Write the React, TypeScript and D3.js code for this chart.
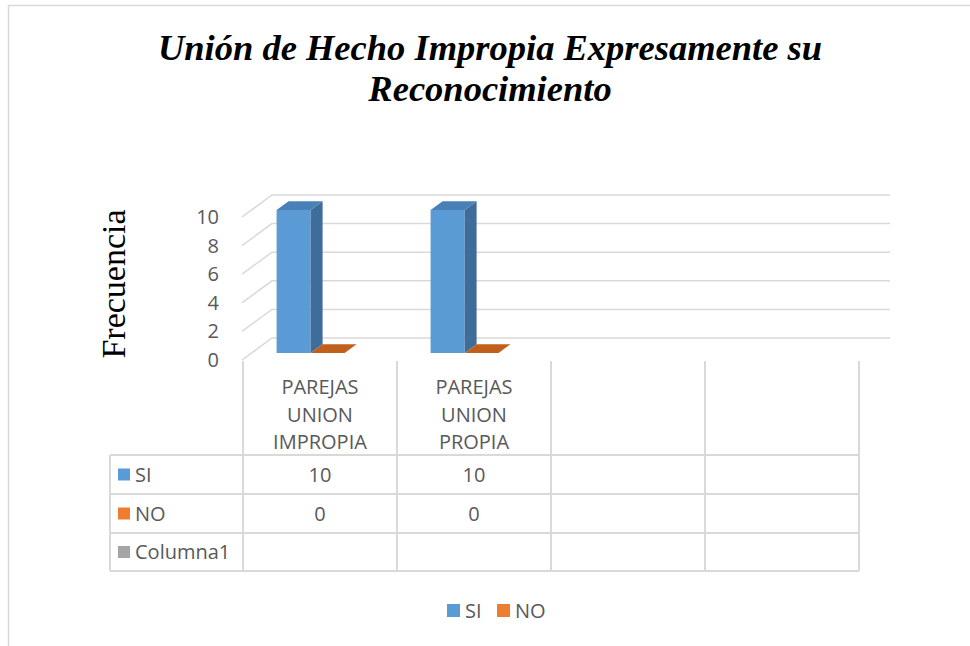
import React from 'react';
import * as d3 from 'd3';

// chart data
const categories = ['PAREJAS UNION IMPROPIA', 'PAREJAS UNION PROPIA', '', ''];
const seriesNames = ['SI', 'NO', 'Columna1'];
const siValues = [10, 10, null, null];
const noValues = [0, 0, null, null];
const columna1Values = [null, null, null, null];
const yTicks = [0, 2, 4, 6, 8, 10];

const colors = {
  SI: { front: '#5B9BD5', side: '#3F6D99', top: '#4A80B8' },
  NO: { front: '#ED7D31', side: '#B05A1E', top: '#C0601C' },
  Columna1: { front: '#A5A5A5', side: '#7C7C7C', top: '#8F8F8F' },
};

const W = 970;
const H = 646;
const GRID = '#D9D9D9';
const TEXT = '#595959';
const SANS = '"Open Sans", "Noto Sans", sans-serif';
const SERIF = '"Liberation Serif", "Times New Roman", serif';

// 3d floor geometry
const floorY = 360;
const depthX = 30;
const depthY = -22;
const barDepth = [0.32, 0.72];

const App = () => {
  const xScale = d3.scaleBand<string>()
    .domain(categories.map((_, i) => String(i)))
    .range([243, 859]);

  const yScale = d3.scaleLinear().domain([0, 10]).range([0, 143]);

  // bars sit inside each band, offset from the left of the band
  const inner = d3.scaleBand<string>().domain(['SI', 'NO']).range([24, 92]);

  const proj = (x: number, v: number, z: number) =>
    [x + z * depthX, floorY - yScale(v) + z * depthY] as [number, number];

  const pts = (p: [number, number][]) => p.map(d => d.join(',')).join(' ');

  const bars: JSX.Element[] = [];
  const seriesData: [string, (number | null)[]][] = [['SI', siValues], ['NO', noValues]];
  seriesData.forEach(([name, vals]) => {
    vals.forEach((v, i) => {
      if (v === null) return;
      const x0 = (xScale(String(i)) as number) + (inner(name) as number);
      const x1 = x0 + inner.bandwidth();
      const [z0, z1] = barDepth;
      const c = colors[name as 'SI' | 'NO'];
      const front = [proj(x0, v, z0), proj(x1, v, z0), proj(x1, 0, z0), proj(x0, 0, z0)];
      const side = [proj(x1, v, z0), proj(x1, v, z1), proj(x1, 0, z1), proj(x1, 0, z0)];
      const top = [proj(x0, v, z0), proj(x1, v, z0), proj(x1, v, z1), proj(x0, v, z1)];
      bars.push(
        <g key={name + i}>
          {v > 0 && <polygon points={pts(front)} fill={c.front} />}
          {v > 0 && <polygon points={pts(side)} fill={c.side} />}
          <polygon points={pts(top)} fill={c.top} />
        </g>
      );
    });
  });

  const x0 = 242;
  const gridRight = 890;

  // table
  const tableLeft = 110;
  const tableRight = 859;
  const rowLines = [455, 494, 533, 571];
  const rowValues = [siValues, noValues, columna1Values];
  const colEdges = categories.map((_, i) => xScale(String(i)) as number).concat([tableRight]);

  return (
    <svg width={W} height={H} style={{ position: 'absolute', left: 0, top: 0 }}>
      <rect x={0} y={0} width={W} height={H} fill="#fff" />
      <path d={`M8.5,${H} V5.5 H${W + 2}`} fill="none" stroke={GRID} strokeWidth={1.5} />

      {/* title */}
      <text x={490} y={60} textAnchor="middle" fontFamily={SERIF}
        fontWeight="bold" fontStyle="italic" fontSize={36.5} fill="#000">
        <tspan x={490}>Unión de Hecho Impropia Expresamente su</tspan>
        <tspan x={490} dy={41}>Reconocimiento</tspan>
      </text>

      {/* axis title */}
      <text transform="translate(125,284) rotate(-90)" textAnchor="middle"
        fontFamily={SERIF} fontSize={34} fill="#000">Frecuencia</text>

      {/* gridlines: side wall diagonal + back wall */}
      {yTicks.map(t => {
        const a = proj(x0, t, 0);
        const b = proj(x0, t, 1);
        return (
          <g key={t}>
            <path d={`M${a[0]},${a[1]} L${b[0]},${b[1]} H${gridRight}`} fill="none" stroke={GRID} strokeWidth={1.5} />
            <text x={219} y={a[1]} dy="0.35em" textAnchor="end" fontFamily={SANS} fontSize={20} fill={TEXT}>{t}</text>
          </g>
        );
      })}

      {bars}

      {/* data table */}
      <g stroke={GRID} strokeWidth={2} fill="none">
        {colEdges.map((x, i) => (
          <line key={'c' + i} x1={x} x2={x} y1={floorY + 1} y2={rowLines[3]} />
        ))}
        {rowLines.map((y, i) => (
          <line key={'r' + i} x1={tableLeft} x2={tableRight} y1={y} y2={y} />
        ))}
        <line x1={tableLeft} x2={tableLeft} y1={rowLines[0]} y2={rowLines[3]} />
      </g>

      {categories.map((c, i) => {
        const cx = (xScale(String(i)) as number) + xScale.bandwidth() / 2;
        const words = c ? c.split(' ') : [];
        return (
          <text key={'h' + i} textAnchor="middle" fontFamily={SANS} fontSize={20} fill={TEXT}>
            {words.map((w, j) => (
              <tspan key={j} x={cx} y={387 + j * 27.5} dy="0.35em">{w}</tspan>
            ))}
          </text>
        );
      })}

      {seriesNames.map((s, r) => {
        const yc = (rowLines[r] + rowLines[r + 1]) / 2;
        return (
          <g key={'row' + s}>
            <rect x={118} y={yc - 6} width={12} height={12} fill={colors[s as 'SI'].front} />
            <text x={135} y={yc} dy="0.35em" fontFamily={SANS} fontSize={20} fill={TEXT}>{s}</text>
            {rowValues[r].map((v, i) => v === null ? null : (
              <text key={i} x={(xScale(String(i)) as number) + xScale.bandwidth() / 2} y={yc} dy="0.35em"
                textAnchor="middle" fontFamily={SANS} fontSize={20} fill={TEXT}>{v}</text>
            ))}
          </g>
        );
      })}

      {/* legend */}
      {['SI', 'NO'].map((s, i) => {
        const lx = 447 + i * 50;
        return (
          <g key={'lg' + s}>
            <rect x={lx} y={604} width={13} height={13} fill={colors[s as 'SI'].front} />
            <text x={lx + 18} y={610.5} dy="0.35em" fontFamily={SANS} fontSize={20} fill={TEXT}>{s}</text>
          </g>
        );
      })}
    </svg>
  );
};

export default App;
